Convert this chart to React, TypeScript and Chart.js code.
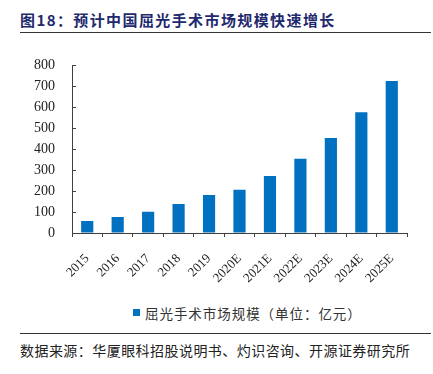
import React, { useEffect, useRef } from "react";
import { Chart, registerables } from "chart.js";

Chart.register(...registerables);

const categories = ["2015", "2016", "2017", "2018", "2019", "2020E", "2021E", "2022E", "2023E", "2024E", "2025E"];
const marketSize = [57, 76, 101, 138, 181, 207, 272, 354, 454, 576, 725];
const seriesName = "屈光手术市场规模（单位：亿元）";
const titleText = "图18：预计中国屈光手术市场规模快速增长";
const sourceText = "数据来源：华厦眼科招股说明书、灼识咨询、开源证券研究所";

const AXIS = "#404040";
const BAR = "#0070C0";

const innerTicks = {
  id: "innerTicks",
  afterDraw(chart: any) {
    const y = chart.scales.y;
    const ctx = chart.ctx;
    const left = chart.chartArea.left;
    ctx.save();
    ctx.strokeStyle = AXIS;
    ctx.lineWidth = 1;
    y.ticks.forEach((t: any) => {
      if (t.value === 0) return;
      const py = Math.round(y.getPixelForValue(t.value)) + 0.5;
      ctx.beginPath();
      ctx.moveTo(left, py);
      ctx.lineTo(left + 4, py);
      ctx.stroke();
    });
    ctx.restore();
  },
};

export default function App() {
  const ref = useRef<HTMLCanvasElement>(null);
  useEffect(() => {
    document.body.style.margin = "0";
    const chart = new Chart(ref.current!, {
      type: "bar",
      data: {
        labels: categories,
        datasets: [
          {
            label: seriesName,
            data: marketSize,
            backgroundColor: BAR,
            borderWidth: 0,
            barPercentage: 0.4,
            categoryPercentage: 1.0,
          },
        ],
      },
      options: {
        animation: false,
        responsive: false,
        maintainAspectRatio: false,
        layout: { padding: { top: 12, right: 26, left: 0, bottom: 0 } },
        plugins: {
          tooltip: { enabled: false },
          legend: { display: false },
        },
        scales: {
          x: {
            grid: { drawOnChartArea: false, tickLength: 4, color: AXIS, offset: true },
            border: { color: AXIS, width: 1 },
            ticks: {
              maxRotation: 45,
              minRotation: 45,
              padding: 14,
              color: "#222222",
              font: { family: "'Liberation Serif'", size: 13 },
            },
            afterFit: (s: any) => {
              s.height = 63;
            },
          },
          y: {
            min: 0,
            max: 800,
            ticks: {
              stepSize: 100,
              padding: 17,
              color: "#222222",
              font: { family: "'Liberation Serif'", size: 14 },
            },
            grid: { drawOnChartArea: false, drawTicks: false },
            border: { color: AXIS, width: 1 },
            afterFit: (s: any) => {
              s.width = 72;
            },
          },
        },
      },
      plugins: [innerTicks],
    });
    return () => chart.destroy();
  }, []);

  return (
    <div style={{ position: "relative", width: 433, height: 374, background: "#fff", overflow: "hidden" }}>
      <div
        style={{
          position: "absolute",
          left: 20,
          top: 9,
          fontFamily: "'Noto Sans CJK SC'",
          fontWeight: 700,
          fontSize: 15,
          letterSpacing: 1.4,
          color: "#1F2A6E",
          whiteSpace: "nowrap",
          lineHeight: "22px",
        }}
      >
        {titleText}
      </div>
      <div style={{ position: "absolute", left: 20, top: 32, width: 411, height: 1, background: "#333" }} />
      <canvas ref={ref} width={433} height={256} style={{ position: "absolute", left: 0, top: 40, width: 433, height: 256 }} />
      <div style={{ position: "absolute", left: 133, top: 309, width: 7, height: 7, background: BAR }} />
      <div
        style={{
          position: "absolute",
          left: 145,
          top: 303,
          fontFamily: "'Noto Sans CJK SC'",
          fontSize: 13.5,
          letterSpacing: 0.95,
          color: "#333",
          whiteSpace: "nowrap",
          lineHeight: "20px",
        }}
      >
        {seriesName}
      </div>
      <div style={{ position: "absolute", left: 20, top: 333, width: 411, height: 1, background: "#333" }} />
      <div
        style={{
          position: "absolute",
          left: 20,
          top: 340,
          fontFamily: "'Noto Sans CJK SC'",
          fontSize: 14,
          letterSpacing: 0.45,
          color: "#222",
          whiteSpace: "nowrap",
          lineHeight: "20px",
        }}
      >
        {sourceText}
      </div>
    </div>
  );
}
